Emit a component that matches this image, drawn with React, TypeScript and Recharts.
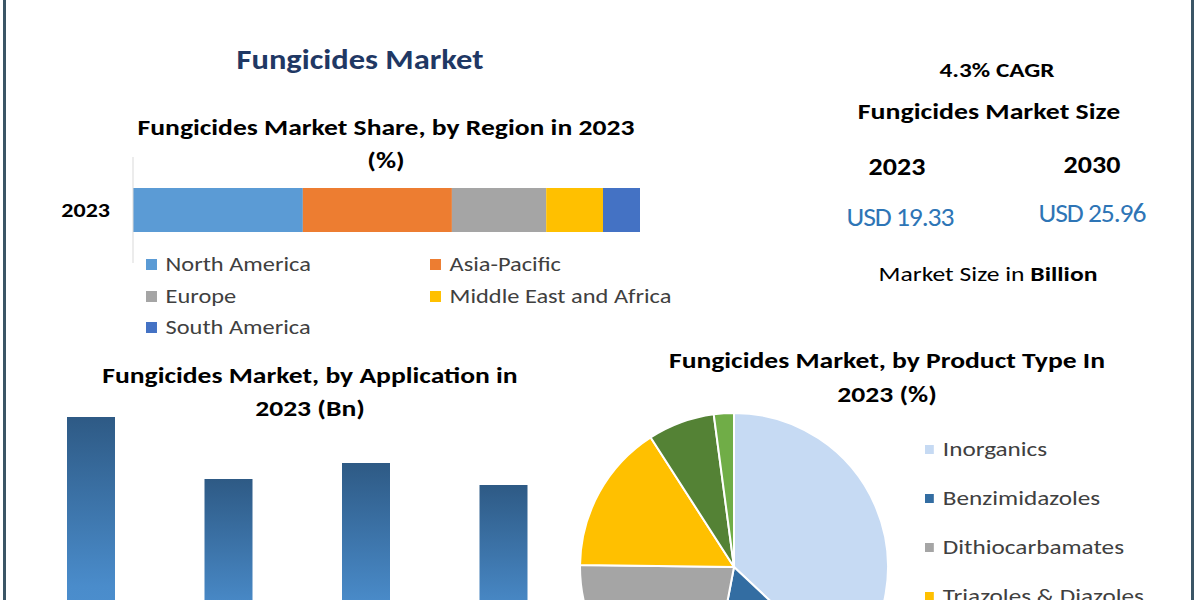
import React from "react";
import { BarChart, Bar, XAxis, YAxis, PieChart, Pie, Cell } from "recharts";

// region share 2023 (%)
const regionNames = ["North America", "Asia-Pacific", "Europe", "Middle East and Africa", "South America"];
const regionKeys = ["na", "ap", "eu", "mea", "sa"];
const regionShares = [33.5, 29.4, 18.6, 11.2, 7.3];
const regionColors = ["#5B9BD5", "#ED7D31", "#A5A5A5", "#FFC000", "#4472C4"];

// application 2023 (Bn)
const appNames = ["Cereals & Grains", "Fruits & Vegetables", "Oilseeds & Pulses", "Others"];
const appValues = [5.66, 4.42, 4.74, 4.3];

// product type 2023 (%)
const productNames = ["Inorganics", "Benzimidazoles", "Dithiocarbamates", "Triazoles & Diazoles", "Morpholines", "Others"];
const productShares = [37, 16, 22.2, 15.7, 7, 2.1];
const productColors = ["#C6DAF3", "#336DA2", "#A5A5A5", "#FFC000", "#548235", "#70AD47"];

const kpi = { cagr: "4.3% CAGR", y1: "2023", y2: "2030", v1: "USD 19.33", v2: "USD 25.96" };

const FONT = "Carlito, Lato, 'Open Sans', sans-serif";

const regionRow: any = { year: "2023" };
regionKeys.forEach((k, i) => (regionRow[k] = regionShares[i]));
const regionData = [regionRow];

const appData = appNames.map((name, i) => ({ name, value: appValues[i] }));
const productData = productNames.map((name, i) => ({ name, value: productShares[i] }));

// the source picture is stretched sideways, so text gets a horizontal scale
const Label = ({ x, y, size, bold = true, color = "#000", sx = 1.2, children, style }: any) => (
    <div
        style={{
            position: "absolute",
            left: x,
            top: y,
            transform: `translate(-50%, -50%) scaleX(${sx})`,
            fontSize: size,
            fontWeight: bold ? 700 : 400,
            color,
            whiteSpace: "nowrap",
            lineHeight: 1,
            ...style,
        }}
    >
        {children}
    </div>
);

const LegendItem = ({ x, y, color, text, sq = 11, gap = 7, sx = 1.22 }: any) => (
    <div
        style={{
            position: "absolute",
            left: x,
            top: y,
            transform: `translateY(-50%) scaleX(${sx})`,
            transformOrigin: "left center",
            display: "flex",
            alignItems: "center",
            fontSize: 20,
            color: "#404040",
            whiteSpace: "nowrap",
            lineHeight: 1,
        }}
    >
        <span style={{ width: sq / sx, height: sq, background: color, marginRight: gap, display: "inline-block" }} />
        {text}
    </div>
);

const YearTick = ({ x, y, payload }: any) => (
    <text
        x={x}
        y={y}
        textAnchor="end"
        dominantBaseline="central"
        fontSize={20}
        fontWeight={700}
        fontFamily={FONT}
        fill="#000"
        transform={`translate(${x},${y}) scale(1.2,1) translate(${-x},${-y})`}
    >
        {payload.value}
    </text>
);

export default function App() {
    const legendPos = [
        [146, 264],
        [430, 264],
        [146, 296],
        [430, 296],
        [146, 327],
    ];
    return (
        <div
            style={{
                position: "absolute",
                left: 0,
                top: 0,
                width: 1200,
                height: 600,
                overflow: "hidden",
                background: "#fff",
                fontFamily: FONT,
            }}
        >
            {/* frame */}
            <div style={{ position: "absolute", left: 3, top: 0, width: 3, height: 600, background: "#3B5666" }} />
            <div style={{ position: "absolute", left: 1191, top: 0, width: 3, height: 600, background: "#3B5666" }} />

            <Label x={360} y={60} size={28} sx={1.16} color="#1F3864">Fungicides Market</Label>

            {/* region share */}
            <Label x={386} y={127} size={23}>Fungicides Market Share, by Region in 2023</Label>
            <Label x={386} y={160} size={23}>(%)</Label>
            <div style={{ position: "absolute", left: 0, top: 157 }}>
                <BarChart width={660} height={106} data={regionData} layout="vertical" margin={{ top: 0, right: 20, left: 0, bottom: 0 }}>
                    <XAxis type="number" domain={[0, 100]} hide />
                    <YAxis
                        type="category"
                        dataKey="year"
                        width={133}
                        axisLine={{ stroke: "#D9D9D9" }}
                        tickLine={false}
                        tickMargin={17}
                        tick={<YearTick />}
                    />
                    {regionKeys.map((k, i) => (
                        <Bar key={k} dataKey={k} stackId="a" fill={regionColors[i]} barSize={44} isAnimationActive={false} />
                    ))}
                </BarChart>
            </div>
            {regionNames.map((n, i) => (
                <LegendItem key={n} x={legendPos[i][0]} y={legendPos[i][1]} color={regionColors[i]} text={n} />
            ))}

            {/* KPI block */}
            <Label x={997} y={70} size={21}>{kpi.cagr}</Label>
            <Label x={989} y={111} size={23} sx={1.21}>Fungicides Market Size</Label>
            <Label x={897} y={166} size={25} sx={1.12}>{kpi.y1}</Label>
            <Label x={1092} y={164} size={25} sx={1.12}>{kpi.y2}</Label>
            <Label x={900} y={217} size={26} sx={1.06} bold={false} color="#2E75B6" style={{ letterSpacing: -1 }}>{kpi.v1}</Label>
            <Label x={1092} y={213} size={26} sx={1.06} bold={false} color="#2E75B6" style={{ letterSpacing: -1 }}>{kpi.v2}</Label>
            <Label x={988} y={274} size={21} sx={1.22} bold={false} color="#000">
                Market Size in <b>Billion</b>
            </Label>

            {/* application bars */}
            <Label x={310} y={375} size={23}>Fungicides Market, by Application in</Label>
            <Label x={310} y={408} size={23}>2023 (Bn)</Label>
            <div style={{ position: "absolute", left: 0, top: 400 }}>
                <BarChart width={594} height={300} data={appData} margin={{ top: 0, right: 22, left: 22, bottom: 0 }}>
                    <defs>
                        <linearGradient id="appGrad" x1="0" y1="0" x2="0" y2="1">
                            <stop offset="0%" stopColor="#2E5A85" />
                            <stop offset="60%" stopColor="#4A8CCB" />
                            <stop offset="100%" stopColor="#5097D8" />
                        </linearGradient>
                    </defs>
                    <XAxis dataKey="name" hide />
                    <YAxis domain={[0, 6]} hide />
                    <Bar dataKey="value" fill="url(#appGrad)" barSize={48} isAnimationActive={false} />
                </BarChart>
            </div>

            {/* product pie */}
            <Label x={887} y={360} size={23}>Fungicides Market, by Product Type In</Label>
            <Label x={887} y={394} size={23}>2023 (%)</Label>
            <div style={{ position: "absolute", left: 574, top: 407 }}>
                <PieChart width={320} height={320} margin={{ top: 0, right: 0, bottom: 0, left: 0 }}>
                    <Pie
                        data={productData}
                        dataKey="value"
                        nameKey="name"
                        cx={160}
                        cy={160}
                        outerRadius={154}
                        startAngle={90}
                        endAngle={-270}
                        stroke="#fff"
                        strokeWidth={2}
                        isAnimationActive={false}
                    >
                        {productData.map((d, i) => (
                            <Cell key={d.name} fill={productColors[i]} />
                        ))}
                    </Pie>
                </PieChart>
            </div>
            {productNames.map((n, i) => (
                <LegendItem key={n} x={925} y={449 + i * 49} color={productColors[i]} text={n} sq={9} gap={7} sx={1.26} />
            ))}
        </div>
    );
}
